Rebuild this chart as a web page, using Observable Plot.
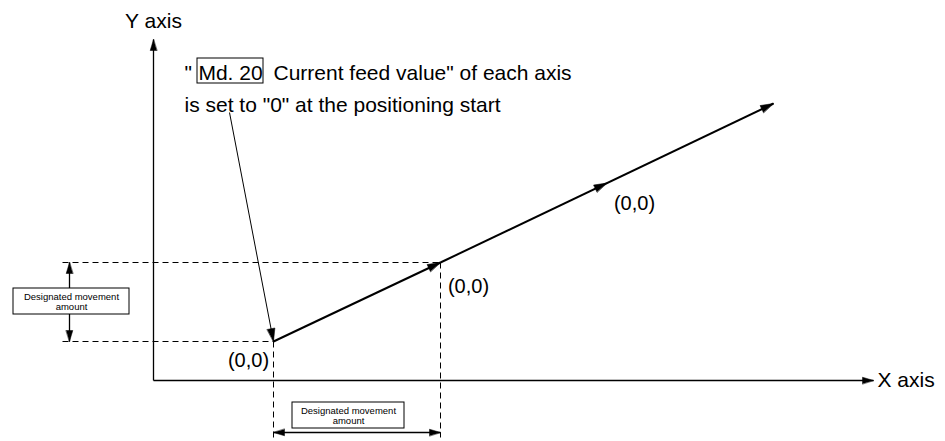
<!DOCTYPE html>
<html><head><meta charset="utf-8">
<script src="https://cdn.jsdelivr.net/npm/d3@7"></script>
<script src="https://cdn.jsdelivr.net/npm/@observablehq/plot@0.6"></script>
<style>body{margin:0;background:#fff;}</style>
</head><body><div id="chart"></div>
<script>
// Diagram coordinates (origin = intersection of the X and Y axes)
const pathX = [120, 287, 620];          // positioning points (start, first end, second end)
const pathY = [39, 118, 277];
const axisEndX = 720;                    // X axis arrow tip
const axisEndY = 341;                    // Y axis arrow tip
const pointLabels = ["(0,0)", "(0,0)", "(0,0)"];
const pointLabelX = [95, 315, 481];
const pointLabelY = [20, 94, 177];
const dashLeft = -91;                    // left end of horizontal extension lines
const dashBottom = -57;                  // bottom end of vertical extension lines
const dimLeftX = -84;                    // vertical dimension arrow
const dimBottomY = -52;                  // horizontal dimension arrow
const dimText = "Designated movement\namount";
const dimBoxLeft = {x1: -140, x2: -24, y1: 66, y2: 92};
const dimBoxBottom = {x1: 139, x2: 251, y1: -48, y2: -22};
const noteLines = ["Current feed value\" of each axis", "is set to \"0\" at the positioning start"];
const noteBoxText = "Md. 20";
const noteBox = {x1: 44, x2: 110, y1: 297, y2: 322};
const pointerStart = {x: 76, y: 268};
const axisLabels = ["X axis", "Y axis"];

const font = "'Liberation Sans', Arial, Helvetica, sans-serif";
const deg = (dx, dy) => Math.atan2(dx, dy) * 180 / Math.PI;

const midX = (pathX[1] + pathX[2]) / 2, midY = (pathY[1] + pathY[2]) / 2;

const dashed = [
  {x1: dashLeft, y1: pathY[1], x2: pathX[1], y2: pathY[1]},
  {x1: dashLeft, y1: pathY[0], x2: pathX[0], y2: pathY[0]},
  {x1: pathX[0], y1: pathY[0], x2: pathX[0], y2: dashBottom},
  {x1: pathX[1], y1: pathY[1], x2: pathX[1], y2: dashBottom}
];
const axes = [
  {x1: 0, y1: 0, x2: axisEndX, y2: 0},
  {x1: 0, y1: 0, x2: 0, y2: axisEndY}
];
const path = [
  {x1: pathX[0], y1: pathY[0], x2: pathX[1], y2: pathY[1]},
  {x1: pathX[1], y1: pathY[1], x2: pathX[2], y2: pathY[2]}
];
const dims = [
  {x1: dimLeftX, y1: pathY[0], x2: dimLeftX, y2: pathY[1]},
  {x1: pathX[0], y1: dimBottomY, x2: pathX[1], y2: dimBottomY}
];
const bigHeads = [
  {x: pathX[1], y: pathY[1], r: deg(pathX[1]-pathX[0], pathY[1]-pathY[0])},
  {x: midX, y: midY, r: deg(pathX[2]-pathX[1], pathY[2]-pathY[1])},
  {x: pathX[2], y: pathY[2], r: deg(pathX[2]-pathX[1], pathY[2]-pathY[1])},
  {x: pathX[0], y: pathY[0], r: deg(pathX[0]-pointerStart.x, pathY[0]-pointerStart.y)}
];
const smallHeads = [
  {x: axisEndX, y: 0, r: 90},
  {x: 0, y: axisEndY, r: 0},
  {x: dimLeftX, y: pathY[1], r: 0},
  {x: dimLeftX, y: pathY[0], r: 180},
  {x: pathX[0], y: dimBottomY, r: -90},
  {x: pathX[1], y: dimBottomY, r: 90}
];
const headShape = {
  draw(context, l, r) {
    const w = l * 0.3;
    context.moveTo(0, 0);
    context.lineTo(-w, l);
    context.lineTo(w, l);
    context.closePath();
  }
};

const chart = Plot.plot({
  width: 945, height: 441, margin: 0,
  x: {domain: [-153, 792], axis: null},
  y: {domain: [-61, 380], axis: null},
  style: {fontFamily: font, background: "white", color: "black"},
  marks: [
    Plot.link(dashed, {x1: "x1", y1: "y1", x2: "x2", y2: "y2", stroke: "black", strokeWidth: 1, strokeDasharray: "6,4"}),
    Plot.link(axes, {x1: "x1", y1: "y1", x2: "x2", y2: "y2", stroke: "black", strokeWidth: 1.3}),
    Plot.link(path, {x1: "x1", y1: "y1", x2: "x2", y2: "y2", stroke: "black", strokeWidth: 2}),
    Plot.link([pointerStart], {x1: "x", y1: "y", x2: () => pathX[0], y2: () => pathY[0], stroke: "black", strokeWidth: 1}),
    Plot.link(dims, {x1: "x1", y1: "y1", x2: "x2", y2: "y2", stroke: "black", strokeWidth: 1.3}),
    Plot.vector(bigHeads, {x: "x", y: "y", rotate: "r", length: 13, anchor: "start", shape: headShape, fill: "black", stroke: "black", strokeWidth: 0.5}),
    Plot.vector(smallHeads, {x: "x", y: "y", rotate: "r", length: 11, anchor: "start", shape: headShape, fill: "black", stroke: "black", strokeWidth: 0.5}),
    Plot.rect([dimBoxLeft, dimBoxBottom], {x1: "x1", x2: "x2", y1: "y1", y2: "y2", fill: "white", stroke: "black", strokeWidth: 1}),
    Plot.text([dimBoxLeft, dimBoxBottom], {x: d => (d.x1 + d.x2) / 2, y: d => (d.y1 + d.y2) / 2, text: () => dimText, fontSize: 9.5, lineHeight: 1.05, fill: "black"}),
    Plot.rect([noteBox], {x1: "x1", x2: "x2", y1: "y1", y2: "y2", fill: "none", stroke: "black", strokeWidth: 1}),
    Plot.text([noteBoxText], {x: (noteBox.x1 + noteBox.x2) / 2, y: 307, text: d => d, fontSize: 21, fill: "black"}),
    Plot.text(["\""], {x: 31, y: 307, text: d => d, fontSize: 21, textAnchor: "start", fill: "black"}),
    Plot.text([noteLines[0]], {x: 120, y: 307, text: d => d, fontSize: 21, textAnchor: "start", fill: "black"}),
    Plot.text([noteLines[1]], {x: 31, y: 275, text: d => d, fontSize: 21, textAnchor: "start", fill: "black"}),
    Plot.text(pointLabels, {x: (d, i) => pointLabelX[i], y: (d, i) => pointLabelY[i], text: d => d, fontSize: 20, fill: "black"}),
    Plot.text([axisLabels[0]], {x: axisEndX + 4, y: 0, text: d => d, fontSize: 21, textAnchor: "start", fill: "black"}),
    Plot.text([axisLabels[1]], {x: 0, y: 359, text: d => d, fontSize: 21, fill: "black"})
  ]
});
document.getElementById("chart").append(chart);
</script>
</body></html>
